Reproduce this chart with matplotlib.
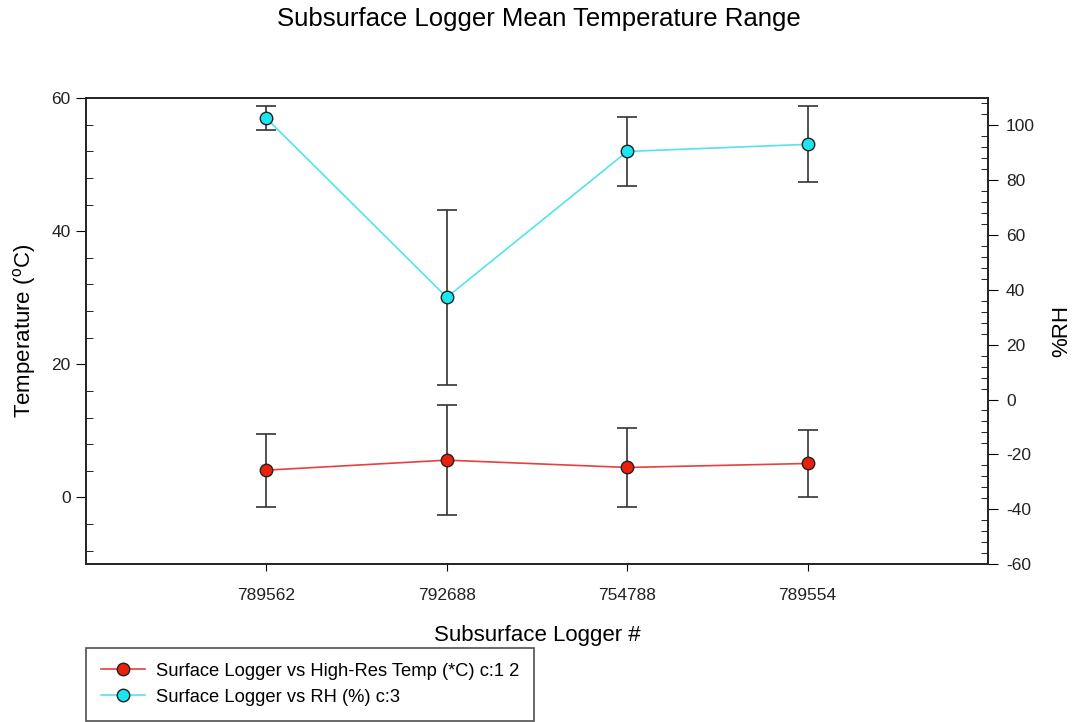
import matplotlib
matplotlib.use("Agg")
import matplotlib.pyplot as plt
from matplotlib.ticker import MultipleLocator
from matplotlib.lines import Line2D

plt.rcParams["font.family"] = ["Liberation Sans", "DejaVu Sans"]
plt.rcParams["axes.unicode_minus"] = False

loggers = ["789562", "792688", "754788", "789554"]
temp_mean = [4.1, 5.6, 4.5, 5.1]
temp_err = [5.5, 8.3, 6.0, 5.1]
rh_mean = [102.6, 37.3, 90.5, 93.1]
rh_err = [4.4, 32.0, 12.7, 13.8]

RED = "#e8200c"
RED_LINE = "#e84040"
CYAN = "#19e6ee"
CYAN_LINE = "#55e3ea"
ERR = "#333333"
INK = "#222222"

fig = plt.figure(figsize=(10.78, 7.22), dpi=100)
ax = fig.add_axes([86 / 1078, 1 - 564 / 722, (988 - 86) / 1078, (564 - 98) / 722])
ax2 = ax.twinx()

x = list(range(1, len(loggers) + 1))

ax.errorbar(x, temp_mean, yerr=temp_err, fmt="none", ecolor=ERR, elinewidth=1.2,
            capsize=7, capthick=1.2, zorder=2)
ax.plot(x, temp_mean, "-o", color=RED_LINE, lw=1.2, mfc=RED, mec=INK,
        mew=1.0, ms=9, zorder=3)

ax2.errorbar(x, rh_mean, yerr=rh_err, fmt="none", ecolor=ERR, elinewidth=1.2,
             capsize=7, capthick=1.2, zorder=2)
ax2.plot(x, rh_mean, "-o", color=CYAN_LINE, lw=1.2, mfc=CYAN, mec=INK,
         mew=1.0, ms=9, zorder=3)

ax.set_xlim(0, 5)
ax.set_ylim(-10, 60)
ax2.set_ylim(-60, 110)
ax.set_xticks(x)
ax.set_xticklabels(loggers)
ax.yaxis.set_major_locator(MultipleLocator(20))
ax.yaxis.set_minor_locator(MultipleLocator(4))
ax2.yaxis.set_major_locator(MultipleLocator(20))
ax2.yaxis.set_minor_locator(MultipleLocator(4))

ax.tick_params(axis="y", which="major", direction="out", length=7, labelsize=12.5,
               pad=4, labelcolor=INK)
ax.tick_params(axis="y", which="minor", direction="in", length=5)
ax.tick_params(axis="x", which="major", direction="out", length=5, labelsize=12.5,
               pad=12, labelcolor=INK)
ax2.tick_params(axis="y", which="major", direction="out", length=7, labelsize=12.5,
                pad=6, labelcolor=INK)
ax2.tick_params(axis="y", which="minor", direction="in", length=5)

for a in (ax, ax2):
    for s in a.spines.values():
        s.set_color(INK)
        s.set_linewidth(1.2)

ax.set_ylabel("Temperature ($^\\mathregular{o}$C)", fontsize=16, labelpad=10)
ax2.set_ylabel("%RH", fontsize=16, labelpad=12)
ax.set_xlabel("Subsurface Logger #", fontsize=16, labelpad=16)
fig.suptitle("Subsurface Logger Mean Temperature Range", fontsize=18.5, y=0.99)

handles = [
    Line2D([], [], color=RED_LINE, marker="o", mfc=RED, mec=INK, ms=9, lw=1.2),
    Line2D([], [], color=CYAN_LINE, marker="o", mfc=CYAN, mec=INK, ms=9, lw=1.2),
]
labels = ["Surface Logger vs High-Res Temp (*C) c:1 2",
          "Surface Logger vs RH (%) c:3"]
leg = fig.legend(handles, labels, loc="upper left",
                 bbox_to_anchor=(86 / 1078, 1 - 648 / 722), frameon=True,
                 fancybox=False, fontsize=13.2, handlelength=2.4,
                 handletextpad=0.6, labelspacing=0.5, borderpad=0.8,
                 borderaxespad=0)
leg.get_frame().set_edgecolor(INK)
leg.get_frame().set_linewidth(1.2)

fig.savefig("out.png", dpi=100, facecolor="white")
